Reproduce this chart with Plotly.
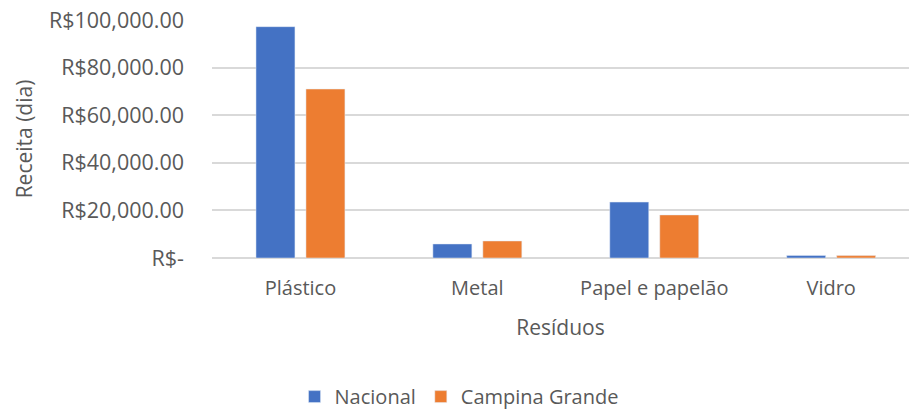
import plotly.graph_objects as go

categories = ["Plástico", "Metal", "Papel e papelão", "Vidro"]
nacional = [97200, 5900, 23500, 1100]
campina_grande = [71000, 7150, 18100, 1000]
y_ticks = [0, 20000, 40000, 60000, 80000, 100000]
y_tick_labels = ["R$-", "R$20,000.00", "R$40,000.00", "R$60,000.00", "R$80,000.00", "R$100,000.00"]

FONT = "Open Sans"
TXT = "#595959"

fig = go.Figure()
fig.add_trace(go.Bar(name="Nacional", x=categories, y=nacional, marker_color="#4472C4"))
fig.add_trace(go.Bar(name="Campina Grande", x=categories, y=campina_grande, marker_color="#ED7D31"))

fig.update_layout(
    width=909, height=411,
    margin=dict(l=212, r=0, t=20, b=153),
    paper_bgcolor="white", plot_bgcolor="white",
    barmode="group", bargap=0.435, bargroupgap=0.22,
    font=dict(family=FONT, color=TXT, size=20),
    showlegend=True,
    legend=dict(orientation="h", xref="container", yref="container",
                x=0.505, xanchor="center", y=0.035, yanchor="middle",
                font=dict(size=20, color=TXT), itemwidth=30, tracegroupgap=0),
)
fig.update_xaxes(
    range=[-0.5, 3.44], showgrid=False, showline=False, ticks="",
    tickfont=dict(size=20, color=TXT), ticklabelstandoff=16,
    title=dict(text="Resíduos", font=dict(size=21, color=TXT), standoff=20),
)
fig.update_yaxes(
    range=[0, 100000], tickvals=y_ticks, ticktext=y_tick_labels,
    showgrid=True, gridcolor="#D9D9D9", gridwidth=1.5,
    zeroline=True, zerolinecolor="#D9D9D9", zerolinewidth=1.5,
    showline=False, ticks="", ticklabelstandoff=27,
    tickfont=dict(size=21.5, color=TXT),
    title=dict(text="Receita (dia)", font=dict(size=21, color=TXT), standoff=10),
)

fig.write_html("out.html")
